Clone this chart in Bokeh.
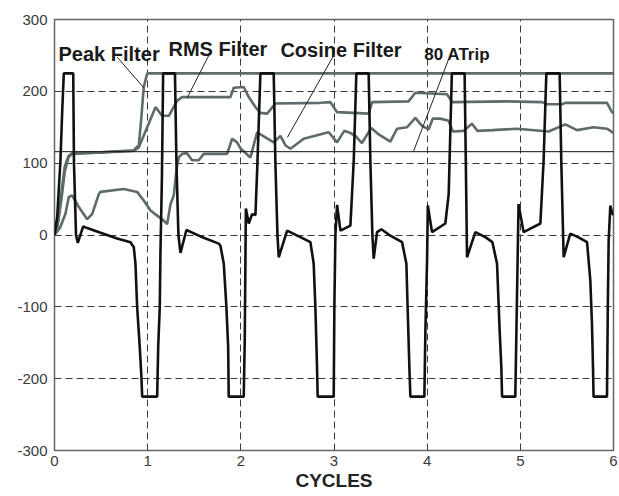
from bokeh.plotting import figure
from bokeh.models import FixedTicker, Label, Range1d
from bokeh.embed import file_html
from bokeh.resources import INLINE

# ---- data (cycles, amperes) ----
wave_x = [0.000, 0.029, 0.064, 0.083, 0.100, 0.201, 0.209, 0.231, 0.250, 0.308, 0.343, 0.494, 0.672, 0.815,
          0.851, 0.869, 0.887, 0.915, 0.933, 0.941, 1.102, 1.113, 1.130, 1.137, 1.153, 1.166, 1.293, 1.309,
          1.330, 1.352, 1.416, 1.567, 1.763, 1.781, 1.817, 1.845, 1.864, 1.870, 2.031, 2.042, 2.049, 2.054,
          2.085, 2.121, 2.157, 2.178, 2.210, 2.353, 2.371, 2.393, 2.407, 2.497, 2.639, 2.747, 2.782, 2.800,
          2.817, 2.825, 2.997, 3.004, 3.015, 3.033, 3.069, 3.176, 3.212, 3.240, 3.372, 3.391, 3.412, 3.426,
          3.462, 3.509, 3.605, 3.731, 3.777, 3.790, 3.809, 3.820, 3.970, 3.981, 3.999, 4.007, 4.052, 4.195,
          4.231, 4.265, 4.402, 4.415, 4.428, 4.517, 4.624, 4.700, 4.750, 4.778, 4.796, 4.804, 4.946, 4.964,
          4.981, 5.035, 5.215, 5.250, 5.279, 5.422, 5.440, 5.465, 5.536, 5.620, 5.716, 5.751, 5.769, 5.780,
          5.786, 5.930, 5.939, 5.948, 5.966, 5.987, 6.000]
wave_y = [0, 25, 104, 173, 225, 225, 100, 0, -11, 12, 10, 3, -5, -10,
          -17, -40, -100, -156, -198, -225, -225, -156, -100, -26, 80, 225, 225, 100,
          0, -25, 7, -2, -12, -15, -40, -100, -156, -225, -225, -147, -40, 37,
          16, 29, 28, 100, 225, 225, 100, 0, -31, 6, -3, -10, -40, -100,
          -180, -225, -225, -100, 0, 42, 6, 13, 104, 225, 225, 100, 0, -33,
          4, 8, -1, -10, -40, -100, -184, -225, -225, -133, -35, 41, 4, 16,
          57, 225, 225, 100, -31, 4, -3, -10, -40, -133, -184, -225, -225, -87,
          43, 4, 16, 104, 225, 225, 100, -31, 2, -3, -10, -63, -124, -184,
          -225, -225, -100, -8, 41, 30, 28]

peak_x = [0.000, 0.030, 0.070, 0.110, 0.150, 0.190, 0.500, 0.850, 0.905, 0.930, 0.958, 0.995, 6.000]
peak_y = [0, 12, 55, 95, 110, 114, 115, 118, 125, 160, 206, 225, 225]

rms_x = [0.000, 0.030, 0.070, 0.110, 0.150, 0.190, 0.500, 0.850, 0.905, 0.995, 1.084, 1.155, 1.227, 1.317,
         1.370, 1.888, 1.924, 2.031, 2.085, 2.157, 2.210, 2.282, 2.353, 2.371, 2.854, 2.961, 3.033, 3.372,
         3.409, 3.800, 3.873, 4.213, 4.267, 4.857, 5.232, 5.286, 5.447, 5.483, 5.930, 5.984, 6.000]
rms_y = [0, 10, 45, 88, 108, 113, 115, 117, 122, 150, 178, 166, 166, 187,
         192, 192, 205, 206, 192, 178, 170, 169, 180, 183, 184, 185, 171, 169,
         185, 186, 198, 196, 185, 186, 185, 182, 182, 184, 184, 171, 170]

cos_x = [0.000, 0.060, 0.118, 0.153, 0.190, 0.261, 0.351, 0.404, 0.476, 0.494, 0.744, 0.887, 0.958, 1.030,
         1.102, 1.173, 1.209, 1.245, 1.280, 1.313, 1.334, 1.370, 1.420, 1.477, 1.548, 1.602, 1.853, 1.907,
         1.960, 2.000, 2.103, 2.175, 2.264, 2.353, 2.425, 2.478, 2.532, 2.604, 2.675, 2.818, 2.908, 2.943,
         3.033, 3.110, 3.176, 3.230, 3.300, 3.400, 3.480, 3.605, 3.677, 3.784, 3.873, 3.945, 4.016, 4.060,
         4.140, 4.230, 4.275, 4.392, 4.480, 4.540, 4.700, 4.964, 5.304, 5.483, 5.608, 5.786, 5.930, 6.000]
cos_y = [0, 10, 30, 53, 55, 39, 22, 29, 57, 60, 64, 60, 48, 34,
         27, 20, 15, 43, 55, 94, 108, 113, 114, 104, 104, 113, 113, 134,
         129, 120, 108, 143, 136, 129, 138, 125, 120, 127, 134, 139, 142, 143,
         129, 145, 142, 138, 128, 149, 140, 130, 148, 150, 163, 152, 147, 162,
         162, 159, 144, 145, 155, 145, 146, 148, 144, 154, 146, 150, 148, 142]

trip_level = 116

labels = ["Peak Filter", "RMS Filter", "Cosine Filter", "80 ATrip"]
label_x = [0.043, 1.223, 2.425, 3.970]
label_y = [252.5, 259.0, 257.0, 251.0]
leader_x0 = [0.673, 1.674, 2.997, 4.231]
leader_y0 = [247.5, 254.5, 250.0, 245.0]
leader_x1 = [0.958, 1.424, 2.500, 3.855]
leader_y1 = [205.0, 191.0, 136.0, 117.0]

x_ticks = [0, 1, 2, 3, 4, 5, 6]
y_ticks = [-300, -200, -100, 0, 100, 200, 300]
x_title = "CYCLES"

# ---- figure ----
p = figure(width=619, height=496, output_backend="svg", toolbar_location=None,
           x_range=Range1d(0, 6), y_range=Range1d(-300, 300),
           min_border_left=54, min_border_right=6, min_border_top=19, min_border_bottom=46)
p.background_fill_color = "white"
p.border_fill_color = "white"
p.outline_line_color = "#666666"
p.outline_line_width = 1.5

for ax in (p.xaxis[0], p.yaxis[0]):
    ax.axis_line_color = None
    ax.major_tick_line_color = None
    ax.minor_tick_line_color = None
    ax.major_tick_out = 0
    ax.major_tick_in = 0
    ax.major_label_text_font = "Liberation Sans"
    ax.major_label_text_font_size = "15px"
    ax.major_label_text_color = "#3a3a3a"
    ax.major_label_standoff = 7

p.xaxis.major_label_standoff = 5
p.xaxis.axis_label = x_title
p.xaxis.axis_label_text_font = "Liberation Sans"
p.xaxis.axis_label_text_font_style = "bold"
p.xaxis.axis_label_text_font_size = "19px"
p.xaxis.axis_label_text_color = "#222222"
p.xaxis.axis_label_standoff = 1

p.xaxis.ticker = FixedTicker(ticks=x_ticks)
p.yaxis.ticker = FixedTicker(ticks=y_ticks)
p.xaxis.major_label_overrides = {t: str(t) for t in x_ticks}
p.yaxis.major_label_overrides = {t: str(t) for t in y_ticks}

p.xgrid.ticker = FixedTicker(ticks=x_ticks[1:-1])
p.ygrid.ticker = FixedTicker(ticks=y_ticks[1:-1])
for g in (p.xgrid[0], p.ygrid[0]):
    g.grid_line_color = "#3a3a3a"
    g.grid_line_dash = "7 4"
    g.grid_line_width = 1

gray = "#5f6a6a"
p.line(rms_x, rms_y, line_color=gray, line_width=2.6)
p.line(cos_x, cos_y, line_color=gray, line_width=2.6)
p.line(peak_x, peak_y, line_color=gray, line_width=2.6)
p.line([0, 6], [trip_level, trip_level], line_color="#111111", line_width=1)
p.line(wave_x, wave_y, line_color="#111111", line_width=2.6)
p.segment(leader_x0, leader_y0, leader_x1, leader_y1, line_color="#222222", line_width=1)

sizes = ["20px", "20px", "20px", "17px"]
for t, x, y, s in zip(labels, label_x, label_y, sizes):
    p.add_layout(Label(x=x, y=y, text=t, text_font="Liberation Sans", text_font_style="bold",
                       text_font_size=s, text_color="#1a1a1a", text_baseline="alphabetic"))

open("out.html", "w").write(file_html(p, INLINE))
